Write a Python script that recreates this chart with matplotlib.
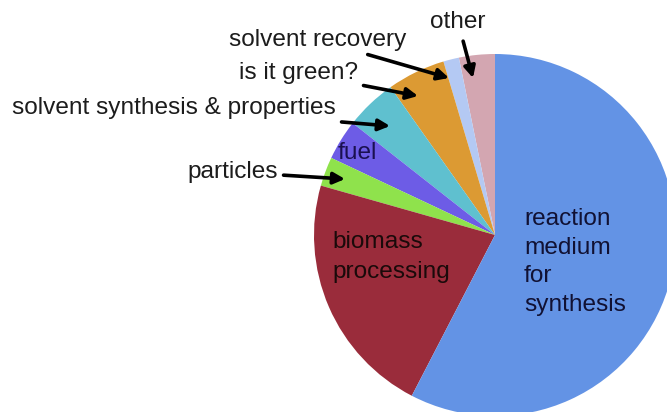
import matplotlib.pyplot as plt

# Share of papers per topic (percent), counter-clockwise from 12 o'clock
topics = ['other', 'solvent recovery', 'is it green?', 'solvent synthesis & properties',
          'fuel', 'particles', 'biomass processing', 'reaction medium for synthesis']
shares = [3.2, 1.4, 5.2, 4.6, 3.6, 2.6, 21.8, 57.6]
colors = ['#d3a6b1', '#b4c9f3', '#dc9a33', '#5fc0cf', '#6d5ce6', '#8fe24c', '#9a2c3b', '#6393e5']

W, H = 667, 412
fig = plt.figure(figsize=(W / 100, H / 100), dpi=100)
ax = fig.add_axes([0, 0, 1, 1])

ax.pie(shares, colors=colors, startangle=90, counterclock=True,
       center=(495, H - 235), radius=181, wedgeprops=dict(linewidth=0))
ax.set_xlim(0, W)
ax.set_ylim(0, H)
ax.set_aspect('equal')
ax.axis('off')

font = dict(family=['Liberation Sans', 'DejaVu Sans'], fontsize=17.6, color='#1c1c1c')
arrow = dict(arrowstyle='-|>', color='black', lw=2.6, mutation_scale=17,
             shrinkA=2, shrinkB=0)

# outside labels with arrows: (text, text anchor x, y, ha, arrow tip x, y)
callouts = [
    ('solvent recovery', 406, 40, 'right', 449, 78),
    ('other', 458, 22, 'center', 473, 78),
    ('is it green?', 358, 73, 'right', 418, 96),
    ('solvent synthesis & properties', 336, 108, 'right', 390, 126),
    ('particles', 278, 172, 'right', 345, 179),
]
for txt, tx, ty, ha, ax_, ay in callouts:
    ax.annotate(txt, xy=(ax_, H - ay), xytext=(tx, H - ty), ha=ha, va='center',
                arrowprops=arrow if txt != 'other' else dict(arrow, shrinkA=4), **font)

# labels inside wedges
ax.text(338, H - 153, 'fuel', ha='left', va='center',
        **dict(font, color='#1a1050'))
ax.text(332, H - 257, 'biomass\nprocessing', ha='left', va='center',
        linespacing=1.45, **dict(font, color='#1a0a0a'))
ax.text(524, H - 262, 'reaction\nmedium\nfor\nsynthesis', ha='left', va='center',
        linespacing=1.4, **dict(font, color='#111133'))

fig.savefig('out.png', dpi=100)
